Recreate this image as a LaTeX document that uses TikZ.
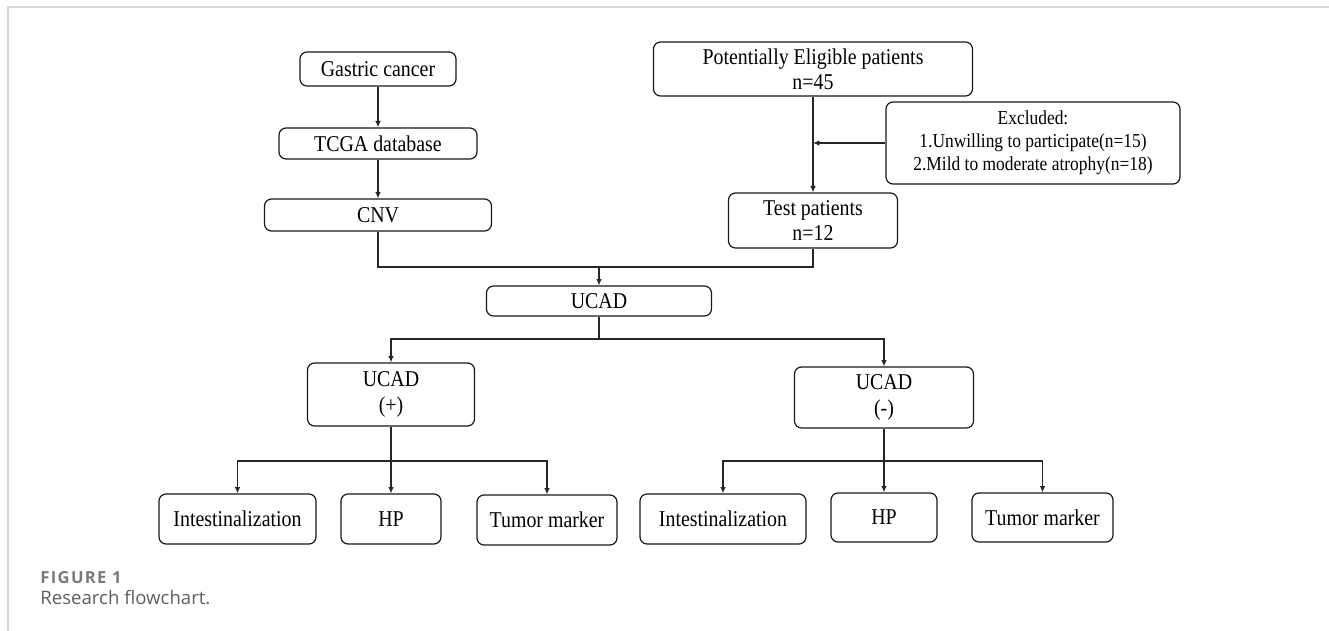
\documentclass[tikz,border=0pt]{standalone}
\usepackage{fontspec}
\setmainfont{Liberation Serif}[FakeStretch=0.88]
\newfontfamily\captionfont{Open Sans}
\newfontfamily\labelfont{Open Sans}[LetterSpace=8]
\usepackage{tikz}
\usetikzlibrary{arrows.meta}
\definecolor{framegray}{HTML}{D6D6D6}
\definecolor{figgray}{HTML}{7A7A7A}
\definecolor{capgray}{HTML}{5E5E5E}

\begin{document}
\begin{tikzpicture}[x=0.5pt,y=-0.5pt,
    every node/.append style={font=\fontsize{11.3}{12.6}\selectfont},
    box/.style={draw=black!90, line width=0.6pt, rounded corners=3.5pt, align=center, inner sep=0pt},
    link/.style={draw=black!85, line width=0.6pt},
    arr/.style={-{Latex[length=3.2pt,width=2.8pt]}}]
  \useasboundingbox (0,0) rectangle (1329,631);
  \draw[framegray, line width=1pt] (7.5,631) -- (7.5,7.5) -- (1329,7.5);

  % left branch
  \node[box, minimum width=78pt, minimum height=17pt] (gastric) at (378,69) {Gastric cancer};
  \node[box, minimum width=99pt, minimum height=15.5pt] (tcga) at (378,143.5) {TCGA database};
  \node[box, minimum width=113.5pt, minimum height=16pt] (cnv) at (378,215) {CNV};

  % right branch
  \node[box, minimum width=159.5pt, minimum height=27pt] (potential) at (813,69) {Potentially Eligible patients\\n=45};
  \node[box, minimum width=147pt, minimum height=41pt, font=\fontsize{9.9}{11.5}\selectfont] (excluded) at (1033,143) {Excluded:\\1.Unwilling to participate(n=15)\\2.Mild to moderate atrophy(n=18)};
  \node[box, minimum width=84.5pt, minimum height=27.5pt] (test) at (813,220.5) {Test patients\\n=12};

  \node[box, minimum width=112.5pt, minimum height=15pt] (ucad) at (599,301) {UCAD};
  \node[box, minimum width=83.5pt, minimum height=31.5pt] (ucadpos) at (391,394.5) {UCAD\\(+)};
  \node[box, minimum width=89.5pt, minimum height=30.5pt] (ucadneg) at (884,397.5) {UCAD\\(-)};

  % outcomes
  \node[box, minimum width=78.5pt, minimum height=25pt] (intl) at (237.5,519) {Intestinalization};
  \node[box, minimum width=50pt, minimum height=25pt] (hpl) at (391,519) {HP};
  \node[box, minimum width=70pt, minimum height=25pt] (tuml) at (547,520) {Tumor marker};
  \node[box, minimum width=83pt, minimum height=25pt] (intr) at (723,519) {Intestinalization};
  \node[box, minimum width=53pt, minimum height=24.5pt] (hpr) at (884,517.5) {HP};
  \node[box, minimum width=70.5pt, minimum height=24.5pt] (tumr) at (1042.5,517.5) {Tumor marker};

  \coordinate (jtop) at (599,267);
  \coordinate (jmid) at (599,339);
  \coordinate (jpos) at (391,461);
  \coordinate (jneg) at (884,461);

  \draw[link,arr] (gastric) -- (tcga);
  \draw[link,arr] (tcga) -- (cnv);
  \draw[link] (cnv.south) |- (jtop) -| (test.south);
  \draw[link,arr] (jtop) -- (ucad.north);
  \draw[link,arr] (potential.south) -- (test.north);
  \draw[link,arr] (excluded.west) -- (excluded.west -| potential.south);

  \draw[link] (ucad.south) -- (jmid);
  \draw[link,arr] (jmid) -| (ucadpos.north);
  \draw[link,arr] (jmid) -| (ucadneg.north);

  \draw[link] (ucadpos.south) -- (jpos);
  \foreach \n in {intl,hpl,tuml}
    \draw[link,arr] (jpos) -| (\n.north);
  \draw[link] (ucadneg.south) -- (jneg);
  \foreach \n in {intr,hpr,tumr}
    \draw[link,arr] (jneg) -| (\n.north);

  % caption
  \node[anchor=west, inner sep=0pt, text=figgray, font=\labelfont\bfseries\fontsize{8.3}{9}\selectfont] (fignum) at (40,578) {FIGURE 1};
  \node[anchor=west, inner sep=0pt, text=capgray, font=\captionfont\fontsize{9.3}{10}\selectfont] (figcap) at (40,598) {Research flowchart.};
\end{tikzpicture}
\end{document}
